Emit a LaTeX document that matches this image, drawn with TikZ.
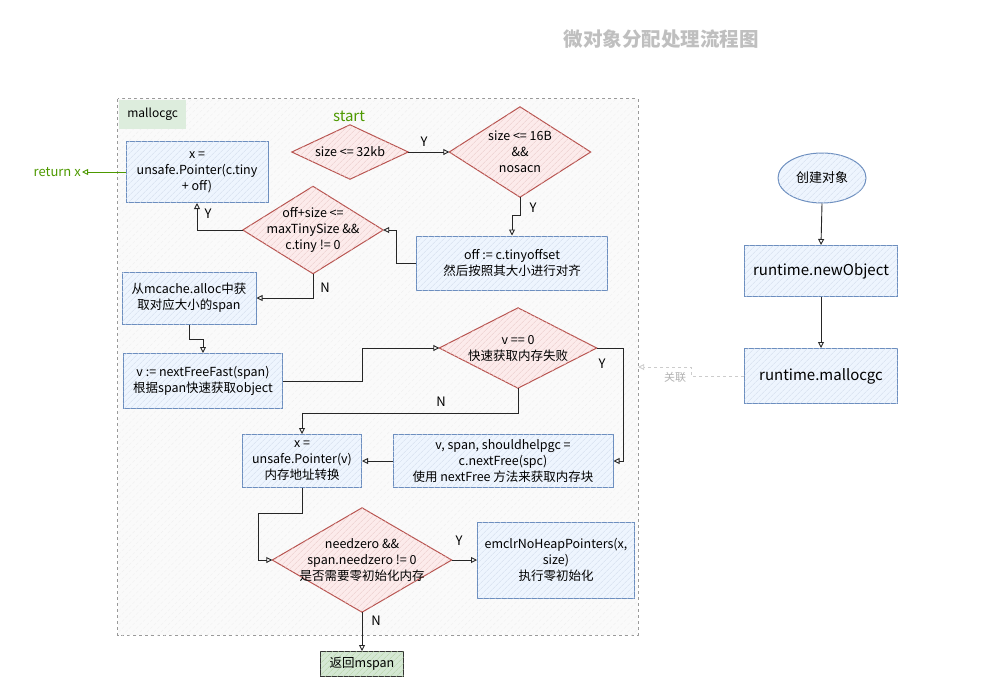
\documentclass[tikz,border=0pt]{standalone}
\usepackage{fontspec}
\setmainfont{Noto Sans CJK SC}
\usetikzlibrary{arrows.meta,patterns.meta,backgrounds,calc,shapes.geometric}
\definecolor{bstroke}{HTML}{6C8EBF}
\definecolor{bfill}{HTML}{DAE8FC}
\definecolor{rstroke}{HTML}{B85450}
\definecolor{rfill}{HTML}{F8CECC}
\definecolor{gstroke}{HTML}{82B366}
\definecolor{gfill}{HTML}{D5E8D4}
\definecolor{gtext}{HTML}{4D9900}
\definecolor{gline}{HTML}{999999}
\begin{document}
\begin{tikzpicture}[x=1pt,y=-1pt,
  font=\fontsize{12.5}{16}\selectfont,
  bbox/.style={draw=bstroke, line width=1pt, fill=bfill!45,
    postaction={pattern={Lines[angle=45,distance=4pt,line width=0.6pt]}, pattern color=bstroke!30},
    align=center, inner sep=1pt},
  dtext/.style={align=center, inner sep=0pt},
  dshape/.style={draw=rstroke, line width=1pt, fill=rfill!40,
    postaction={pattern={Lines[angle=45,distance=4pt,line width=0.6pt]}, pattern color=rstroke!30}},
  arr/.style={-{Triangle[open,length=6pt,width=6pt]}, line width=0.9pt, black!85},
  lbl/.style={font=\fontsize{13}{15}\selectfont, inner sep=1pt},
]
\useasboundingbox (0,0) rectangle (988,694);

% title
\node[font=\fontsize{19.5}{22}\selectfont\bfseries, text=black!25] (title) at (661,39) {微对象分配处理流程图};

% container (drawn on background later)
\node[minimum width=520, minimum height=536, inner sep=0] (cont) at (378,367) {};
\node[fill=gfill!80, minimum width=67, minimum height=29, inner sep=0, anchor=north west,
  font=\fontsize{12}{14}\selectfont] (mlabel) at (119,100) {mallocgc};

\node[text=gtext, font=\fontsize{15}{17}\selectfont] (start) at (349,116) {start};

% diamonds (text)
\node[dtext, minimum width=116, minimum height=54] (d1) at (350,152) {size <= 32kb};
\node[dtext, minimum width=141, minimum height=90] (d2) at (520,152) {size <= 16B\\\&\&\\nosacn};
\node[dtext, minimum width=140, minimum height=87] (d3) at (313,230) {off+size <=\\maxTinySize \&\&\\c.tiny != 0};
\node[dtext, minimum width=157, minimum height=80] (d4) at (518,348) {v == 0\\快速获取内存失败};
\node[dtext, minimum width=179, minimum height=104] (d5) at (362,560) {needzero \&\&\\span.needzero != 0\\是否需要零初始化内存};

% boxes
\node[bbox, minimum width=142, minimum height=61] (b1) at (197,172) {x =\\unsafe.Pointer(c.tiny\\+ off)};
\node[bbox, minimum width=191, minimum height=54] (b3) at (512,263) {off := c.tinyoffset\\然后按照其大小进行对齐};
\node[bbox, minimum width=134, minimum height=52] (b4) at (189,298) {从mcache.alloc中获\\取对应大小的span};
\node[bbox, minimum width=159, minimum height=55] (b5) at (203,381) {v := nextFreeFast(span)\\根据span快速获取object};
\node[bbox, minimum width=119, minimum height=53] (b6) at (302,461) {x =\\unsafe.Pointer(v)\\内存地址转换};
\node[bbox, minimum width=220, minimum height=53] (b7) at (503,461) {v, span, shouldhelpgc =\\c.nextFree(spc)\\使用 nextFree 方法来获取内存块};
\node[bbox, minimum width=157, minimum height=76] (b8) at (556,560) {emclrNoHeapPointers(x,\\size)\\执行零初始化};
\node[draw=black!80, line width=1pt, fill=gfill, postaction={pattern={Lines[angle=45,distance=4pt,line width=0.6pt]}, pattern color=gstroke!60},
  minimum width=83, minimum height=25, inner sep=1pt] (ret) at (362,664) {返回mspan};

\node[text=gtext, anchor=east, inner sep=1pt, font=\fontsize{13}{15}\selectfont] (rx) at (82,172) {return x};

% right side
\node[ellipse, draw=bstroke, line width=1pt, fill=bfill!45,
  postaction={pattern={Lines[angle=45,distance=4pt,line width=0.6pt]}, pattern color=bstroke!30},
  minimum width=88, minimum height=50, inner sep=0, font=\fontsize{13}{15}\selectfont] (e1) at (822,178) {创建对象};
\node[bbox, minimum width=153, minimum height=51, font=\fontsize{15}{17}\selectfont] (rn) at (821,271) {runtime.newObject};
\node[bbox, minimum width=153, minimum height=55, font=\fontsize{15}{17}\selectfont] (rm) at (821,376) {runtime.mallocgc};

% background: container and diamonds
\begin{pgfonlayer}{background}
  \draw[dashed, draw=gline, line width=1pt, fill=black!2,
    postaction={pattern={Lines[angle=45,distance=5pt,line width=0.4pt]}, pattern color=black!6}]
    (cont.north west) rectangle (cont.south east);
  \foreach \n in {d1,d2,d3,d4,d5}
    \draw[dshape] (\n.west) -- (\n.north) -- (\n.east) -- (\n.south) -- cycle;
\end{pgfonlayer}

% connectors
\draw[arr] (d1.east) -- (d2.west);
\node[lbl] (ly1) at (424,142) {Y};
\draw[arr] (d2.south) -- ++(0,18) -| (b3.north);
\node[lbl] (ly2) at (533,208) {Y};
\draw[arr] (b3.west) -- ++(-20,0) |- (d3.east);
\draw[arr] (d3.west) -| (b1.south);
\node[lbl] (ly3) at (208,214) {Y};
\draw[arr] (d3.south) |- (b4.east);
\node[lbl] (ln1) at (325,288) {N};
\draw[arr] (b4.south) -- ++(0,15) -| (b5.north);
\draw[arr] (b5.east) -- ++(79,0) |- (d4.west);
\draw[arr] (d4.south) -- ++(0,25) -| (b6.north);
\node[lbl] (ln2) at (441,402) {N};
\draw[arr] (d4.east) -- ++(27,0) |- (b7.east);
\node[lbl] (ly4) at (602,364) {Y};
\draw[arr] (b7.west) -- (b6.east);
\draw[arr] (b6.south) -- ++(0,25) -- ++(-44,0) |- (d5.west);
\draw[arr] (d5.east) -- (b8.west);
\node[lbl] (ly5) at (459,541) {Y};
\draw[arr] (d5.south) -- (ret.north);
\node[lbl] (ln3) at (376,621) {N};
\draw[arr, draw=gtext] (b1.west) -- (rx.east);

\draw[arr] (e1.south) -- (rn.north);
\draw[arr] (rn.south) -- (rm.north);
\draw[arr, draw=black!20, dashed] (rm.west) -- ++(-53,0) |- (cont.east);
\node[text=black!30, fill=white, inner sep=1pt, font=\fontsize{11}{13}\selectfont] (lk) at (675,377) {关联};
\end{tikzpicture}
\end{document}
